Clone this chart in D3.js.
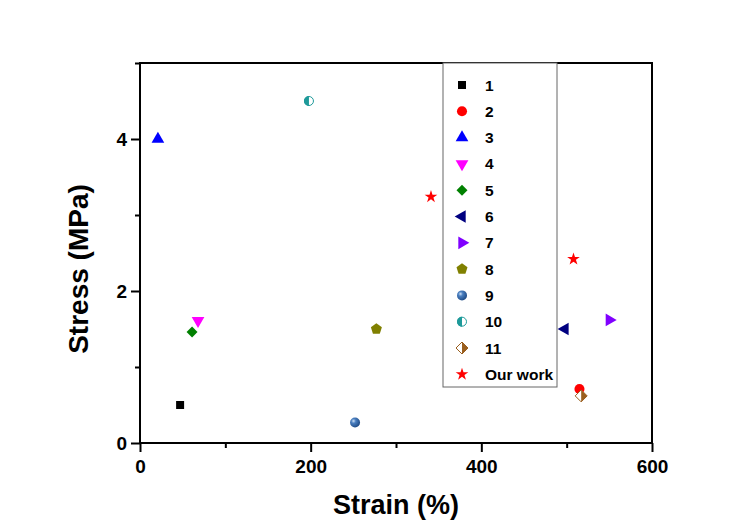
<!DOCTYPE html>
<html>
<head>
<meta charset="utf-8">
<script src="https://cdn.jsdelivr.net/npm/d3@7/dist/d3.min.js"></script>
<style>
  html, body { margin: 0; padding: 0; background: #fff; }
  svg text { font-family: "Liberation Sans", Arial, sans-serif; font-weight: bold; fill: #000; }
</style>
</head>
<body>
<svg id="chart" width="741" height="522"></svg>
<script>
// Stress–strain comparison of reported materials
const seriesNames = ["1", "2", "3", "4", "5", "6", "7", "8", "9", "10", "11", "Our work"];
const strainValues = [[47], [515], [21], [68], [61], [498], [550], [277], [252], [198], [517], [341, 508]];
const stressValues = [[0.50], [0.71], [4.0], [1.61], [1.46], [1.50], [1.62], [1.50], [0.27], [4.50], [0.62], [3.24, 2.42]];
const xMajorTicks = [0, 200, 400, 600];
const xMinorTicks = [100, 300, 500];
const yMajorTicks = [0, 2, 4];
const yMinorTicks = [1, 3, 5];

const svg = d3.select("#chart");
const x = d3.scaleLinear().domain([0, 600]).range([140, 652]);
const y = d3.scaleLinear().domain([0, 5]).range([443, 63]);

// Custom symbol: regular pentagon
const pentagon = {
  draw(ctx, size) {
    const r = Math.sqrt(size / 2.378);
    for (let i = 0; i < 5; i++) {
      const a = -Math.PI / 2 + i * 2 * Math.PI / 5;
      const px = r * Math.cos(a), py = r * Math.sin(a);
      if (i === 0) ctx.moveTo(px, py); else ctx.lineTo(px, py);
    }
    ctx.closePath();
  }
};

const defs = svg.append("defs");
const grad = defs.append("radialGradient").attr("id", "sphere")
  .attr("cx", "35%").attr("cy", "35%").attr("r", "65%");
grad.append("stop").attr("offset", "0%").attr("stop-color", "#cfe0f5");
grad.append("stop").attr("offset", "35%").attr("stop-color", "#4a7fc0");
grad.append("stop").attr("offset", "100%").attr("stop-color", "#234f8a");

const styles = [
  { type: d3.symbolSquare, size: 64, rot: 0, color: "#000000" },
  { type: d3.symbolCircle, size: 80, rot: 0, color: "#ff0000" },
  { type: d3.symbolTriangle, size: 70, rot: 0, color: "#0000ff" },
  { type: d3.symbolTriangle, size: 70, rot: 180, color: "#ff00ff" },
  { type: d3.symbolSquare, size: 60, rot: 45, color: "#008000" },
  { type: d3.symbolTriangle, size: 70, rot: -90, color: "#000080" },
  { type: d3.symbolTriangle, size: 70, rot: 90, color: "#8000ff" },
  { type: pentagon, size: 80, rot: 0, color: "#808000" },
  { kind: "sphere", r: 5, color: "#336699" },
  { kind: "halfCircle", r: 5, color: "#1e9a9a" },
  { kind: "halfDiamond", r: 6, color: "#9a5f1e" },
  { type: d3.symbolStar, size: 50, rot: 0, color: "#ff0000" }
];

function drawMarker(g, s) {
  if (s.kind === "sphere") {
    g.append("circle").attr("r", s.r).attr("fill", "url(#sphere)");
  } else if (s.kind === "halfCircle") {
    g.append("circle").attr("r", s.r - 0.5).attr("fill", "#fff")
      .attr("stroke", s.color).attr("stroke-width", 1);
    g.append("path")
      .attr("d", `M0,${-s.r} A${s.r},${s.r} 0 0 0 0,${s.r} Z`)
      .attr("fill", s.color);
  } else if (s.kind === "halfDiamond") {
    const r = s.r;
    g.append("path").attr("d", `M0,${-r} L${r},0 L0,${r} L${-r},0 Z`)
      .attr("fill", "#fff").attr("stroke", s.color).attr("stroke-width", 1);
    g.append("path").attr("d", `M0,${-r} L${r},0 L0,${r} Z`).attr("fill", s.color);
  } else {
    g.append("path")
      .attr("d", d3.symbol().type(s.type).size(s.size)())
      .attr("transform", `rotate(${s.rot})`)
      .attr("fill", s.color);
  }
}

// Axes
const axisStyle = g => {
  g.selectAll(".domain").remove();
  g.selectAll(".tick line").attr("stroke", "#000").attr("stroke-width", 2);
  g.selectAll(".tick text").attr("font-size", 19).attr("font-family", "Liberation Sans, Arial, sans-serif").attr("font-weight", "bold");
};

svg.append("g").attr("transform", "translate(0,443)")
  .call(d3.axisBottom(x).tickValues(xMajorTicks).tickSize(9).tickPadding(8).tickFormat(d3.format("d")))
  .call(axisStyle);
svg.append("g").attr("transform", "translate(0,443)")
  .call(d3.axisBottom(x).tickValues(xMinorTicks).tickSize(5).tickFormat(""))
  .call(axisStyle);
svg.append("g").attr("transform", "translate(140,0)")
  .call(d3.axisLeft(y).tickValues(yMajorTicks).tickSize(9).tickPadding(4).tickFormat(d3.format("d")))
  .call(axisStyle);
svg.append("g").attr("transform", "translate(140,0)")
  .call(d3.axisLeft(y).tickValues(yMinorTicks).tickSize(5).tickFormat(""))
  .call(axisStyle);

// Plot frame
svg.append("rect")
  .attr("x", x(0)).attr("y", y(5))
  .attr("width", x(600) - x(0)).attr("height", y(0) - y(5))
  .attr("fill", "none").attr("stroke", "#000").attr("stroke-width", 2);

// Axis titles
svg.append("text").attr("x", 396).attr("y", 514)
  .attr("text-anchor", "middle").attr("font-size", 27).text("Strain (%)");
svg.append("text").attr("transform", "translate(88,269) rotate(-90)")
  .attr("text-anchor", "middle").attr("font-size", 28).text("Stress (MPa)");

// Legend
const legend = svg.append("g");
legend.append("rect").attr("x", 443).attr("y", 63).attr("width", 114).attr("height", 324)
  .attr("fill", "#fff").attr("stroke", "#666").attr("stroke-width", 1);
seriesNames.forEach((name, i) => {
  const cy = 85 + i * 26.3;
  const g = legend.append("g").attr("transform", `translate(462,${cy})`);
  drawMarker(g, styles[i]);
  legend.append("text").attr("x", 485).attr("y", cy + 5.5)
    .attr("font-size", 15.5).text(name);
});

// Data points
seriesNames.forEach((name, i) => {
  strainValues[i].forEach((sx, j) => {
    const g = svg.append("g").attr("transform", `translate(${x(sx)},${y(stressValues[i][j])})`);
    drawMarker(g, styles[i]);
  });
});
</script>
</body>
</html>
